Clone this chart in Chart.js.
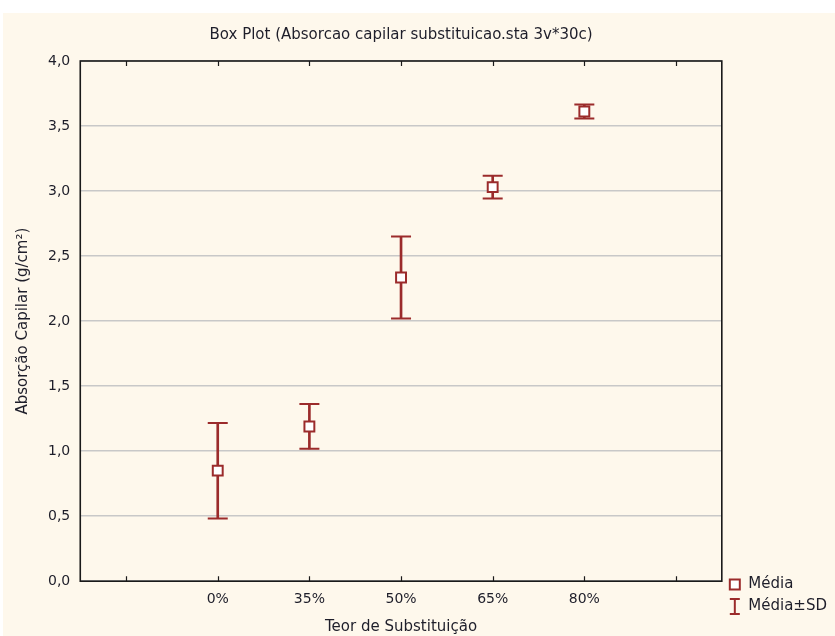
<!DOCTYPE html>
<html>
<head>
<meta charset="utf-8">
<script src="https://cdn.jsdelivr.net/npm/chart.js@4/dist/chart.umd.min.js"></script>
<style>
  html, body { margin: 0; padding: 0; background: #ffffff; }
  #wrap { position: absolute; left: 3px; top: 13px; width: 832px; height: 623px; background: #fef8ec; }
</style>
</head>
<body>
<div id="wrap"><canvas id="chart"></canvas></div>
<script>
// categories (empty slots at both ends, like the original plot)
const categories = ['', '0%', '35%', '50%', '65%', '80%', ''];
// mean and standard deviation
const means = [null, 0.85, 1.19, 2.335, 3.03, 3.612, null];
const sds   = [null, 0.367, 0.172, 0.315, 0.088, 0.054, null];
const yTicks = [0, 0.5, 1, 1.5, 2, 2.5, 3, 3.5, 4];

const red = '#9b2b2b';
const txt = '#1e1e2a';
const font = 'DejaVu Sans, sans-serif';

const hi = means.map((m, i) => m == null ? null : m + sds[i]);
const lo = means.map((m, i) => m == null ? null : m - sds[i]);
const ranges = means.map((m, i) => m == null ? null : [lo[i], hi[i]]);

// little "I" marker for the legend
const iconSD = document.createElement('canvas');
iconSD.width = 12; iconSD.height = 17;
(function () {
    const c = iconSD.getContext('2d');
    c.strokeStyle = red;
    c.lineWidth = 2;
    c.beginPath();
    c.moveTo(1, 1); c.lineTo(11, 1);
    c.moveTo(6, 1); c.lineTo(6, 16);
    c.moveTo(1, 16); c.lineTo(11, 16);
    c.stroke();
})();

// frame round the plot + inward tick marks
const frame = {
    id: 'frame',
    afterLayout(chart) {
        // lift the legend a bit so it starts at the plot's bottom line
        chart.legend.top -= 15;
        chart.legend.bottom -= 15;
    },
    afterDraw(chart) {
        const { ctx, chartArea: a } = chart;
        const x = chart.scales.x;
        ctx.save();
        ctx.strokeStyle = '#1a1a1a';
        ctx.lineWidth = 1.6;
        ctx.strokeRect(a.left, a.top, a.right - a.left, a.bottom - a.top);
        ctx.lineWidth = 1.2;
        ctx.beginPath();
        x.ticks.forEach((t, i) => {
            const px = Math.round(x.getPixelForTick(i)) + 0.5;
            ctx.moveTo(px, a.top); ctx.lineTo(px, a.top + 5);
            ctx.moveTo(px, a.bottom); ctx.lineTo(px, a.bottom - 5);
        });
        ctx.stroke();
        ctx.restore();
    }
};

const ctx = document.getElementById('chart').getContext('2d');
const chart = new Chart(ctx, {
    type: 'bar',
    data: {
        labels: categories,
        datasets: [
            {
                type: 'line',
                label: 'Média',
                data: means,
                showLine: false,
                pointStyle: 'rect',
                pointRadius: 7,
                pointBorderWidth: 2,
                pointBorderColor: red,
                pointBackgroundColor: '#ffffff',
                order: 0,
            },
            {
                type: 'line',
                label: 'capHi',
                data: hi,
                showLine: false,
                pointStyle: 'line',
                pointRadius: 10,
                pointBorderWidth: 2,
                pointBorderColor: red,
                order: 1,
            },
            {
                type: 'line',
                label: 'capLo',
                data: lo,
                showLine: false,
                pointStyle: 'line',
                pointRadius: 10,
                pointBorderWidth: 2,
                pointBorderColor: red,
                order: 1,
            },
            {
                label: 'Média±SD',
                data: ranges,
                backgroundColor: red,
                barThickness: 2,
                order: 2,
            },
        ],
    },
    options: {
        responsive: true,
        maintainAspectRatio: false,
        animation: false,
        layout: {
            padding: { left: 11, right: -2, top: 0, bottom: 0 },
        },
        scales: {
            x: {
                offset: true,
                grid: { display: false, drawTicks: false },
                border: { display: false },
                ticks: {
                    color: txt,
                    font: { family: font, size: 14 },
                    padding: 10,
                },
                title: {
                    display: true,
                    text: 'Teor de Substituição',
                    color: txt,
                    font: { family: font, size: 15 },
                    padding: { top: 0, bottom: 0 },
                },
            },
            y: {
                min: 0,
                max: 4,
                afterBuildTicks: (scale) => {
                    scale.ticks = yTicks.map(v => ({ value: v }));
                },
                grid: {
                    color: '#c8c8c8',
                    lineWidth: 1.5,
                    drawTicks: false,
                },
                border: { display: false },
                ticks: {
                    color: txt,
                    font: { family: font, size: 14 },
                    padding: 10,
                    callback: (v) => Number(v).toFixed(1).replace('.', ','),
                },
                title: {
                    display: true,
                    text: 'Absorção Capilar (g/cm²)',
                    color: txt,
                    font: { family: font, size: 15 },
                    padding: { top: 0, bottom: 6 },
                },
            },
        },
        plugins: {
            title: {
                display: true,
                text: 'Box Plot (Absorcao capilar substituicao.sta 3v*30c)',
                color: txt,
                fullSize: false,
                font: { family: font, size: 15, weight: 'normal' },
                padding: { top: 13, bottom: 17 },
            },
            legend: {
                position: 'right',
                align: 'end',
                labels: {
                    usePointStyle: true,
                    boxHeight: 10,
                    boxWidth: 12,
                    padding: 7,
                    color: txt,
                    font: { family: font, size: 15 },
                    generateLabels: () => [
                        { text: 'Média', pointStyle: 'rect', fillStyle: '#ffffff', strokeStyle: red, lineWidth: 2, fontColor: txt },
                        { text: 'Média±SD', pointStyle: iconSD, fillStyle: red, strokeStyle: red, lineWidth: 0, fontColor: txt },
                    ],
                },
            },
            tooltip: { enabled: false },
        },
    },
    plugins: [frame],
});
</script>
</body>
</html>
